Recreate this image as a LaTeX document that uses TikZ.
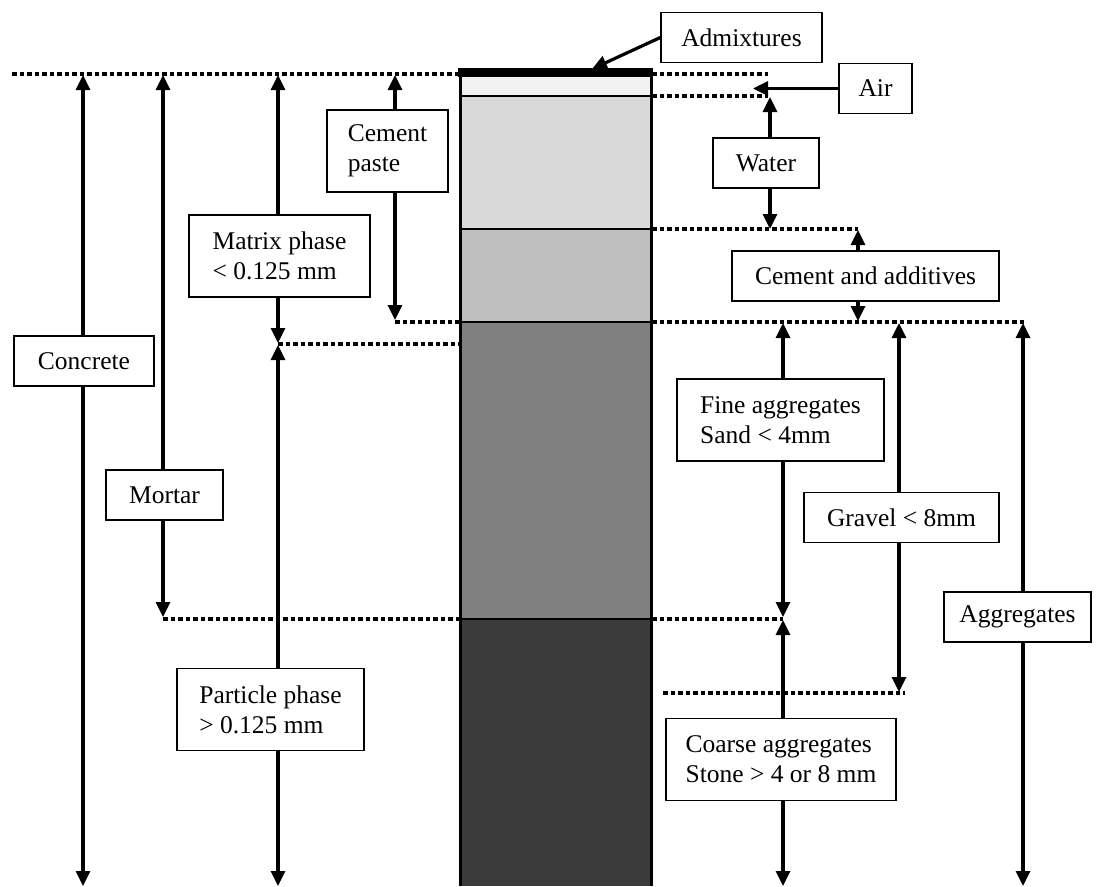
\documentclass[tikz,border=0pt]{standalone}
\usepackage{fontspec}
\setmainfont{Liberation Serif}
\usetikzlibrary{arrows.meta}
\tikzset{
  boite/.style={draw, line width=1.3pt, fill=white, inner xsep=14pt, inner ysep=0pt,
    minimum height=50pt, align=left},
  boite2/.style={boite, minimum height=82pt},
  fleche/.style={line width=3.2pt, -{Triangle[length=15pt,width=14pt]}},
  pointille/.style={line width=4.5pt, dash pattern=on 4.5pt off 3pt},
}
\begin{document}
\begin{tikzpicture}[x=1pt,y=-1pt,font=\fontsize{25.5}{30}\selectfont]
\useasboundingbox (0,0) rectangle (1099,886);
\newcommand{\doublecote}[3]{\draw[fleche] (#1.north -| #2) -- (#2); \draw[fleche] (#1.south -| #3) -- (#3);}
% couches de la colonne
\fill[black!5] (460,74) rectangle (651,96);%air
\fill[black!15] (460,96) rectangle (651,229);%eau
\fill[black!25] (460,229) rectangle (651,322);%ciment
\fill[black!50] (460,322) rectangle (651,619);%sable
\fill[black!77] (460,619) rectangle (651,886);%pierres
% lignes de niveau
\draw[pointille] (12,74) -- (459,74);
\draw[pointille] (652,74) -- (768,74);
\draw[pointille] (652,96) -- (768,96);
\draw[pointille] (652,229) -- (858,229);
\draw[pointille] (395,322) -- (459,322);
\draw[pointille] (652,322) -- (1024,322);
\draw[pointille] (278,344) -- (459,344);
\draw[pointille] (163,619) -- (459,619);
\draw[pointille] (652,619) -- (783,619);
\draw[pointille] (663,693) -- (905,693);
\foreach \y in {96,229,322,619} \draw[line width=2.5pt] (460,\y) -- (651,\y);
\draw[line width=3pt] (460,886) -- (460,72) (651,72) -- (651,886);
\draw[line width=9pt] (458,72.5) -- (653,72.5);%adjuvants
% boites
\node[boite, minimum width=161pt] (admix) at (741.5,37.5) {Admixtures};
\node[boite, minimum width=73pt] (air) at (875.5,88.5) {Air};
\node[boite, minimum width=106pt] (eau) at (766,163) {Water};
\node[boite, minimum width=267pt] (ciment) at (865.5,276) {Cement and additives};
\node[boite2, minimum width=207pt] (fin) at (780.5,420) {Fine aggregates\\Sand < 4mm};
\node[boite, minimum width=195pt] (gravier) at (901.5,517.5) {Gravel < 8mm};
\node[boite, minimum width=147pt] (granulats) at (1017.5,617) {Aggregates};
\node[boite2, minimum width=230pt] (gros) at (781,759.5) {Coarse aggregates\\Stone > 4 or 8 mm};
\node[boite, minimum width=140pt] (beton) at (84,361) {Concrete};
\node[boite, minimum width=117pt] (mortier) at (164.5,495) {Mortar};
\node[boite2, minimum width=181pt] (matrice) at (279.5,256) {Matrix phase\\< 0.125 mm};
\node[boite2, minimum width=187pt] (particule) at (270.5,709.5) {Particle phase\\> 0.125 mm};
\node[boite2, minimum width=121pt] (pate) at (387.5,151) {Cement\\paste};
% extremites des fleches
\coordinate (adm) at (592,69);
\coordinate (airB) at (753,88.5);
\coordinate (betonH) at (83,75); \coordinate (betonB) at (83,886);
\coordinate (mortierH) at (163,75); \coordinate (mortierB) at (163,617);
\coordinate (matriceH) at (278,75); \coordinate (matriceB) at (278,343);
\coordinate (particuleH) at (278,345); \coordinate (particuleB) at (278,886);
\coordinate (pateH) at (395,75); \coordinate (pateB) at (395,320);
\coordinate (eauH) at (770,97); \coordinate (eauB) at (770,229);
\coordinate (cimentH) at (858,230); \coordinate (cimentB) at (858,321);
\coordinate (finH) at (783,323); \coordinate (finB) at (783,617);
\coordinate (gravierH) at (899,323); \coordinate (gravierB) at (899,692);
\coordinate (granulatsH) at (1023,323); \coordinate (granulatsB) at (1023,886);
\coordinate (grosH) at (783,620); \coordinate (grosB) at (783,886);
% fleches
\draw[fleche] (admix.west) -- (adm);
\draw[fleche] (air.west) -- (airB);
\doublecote{beton}{betonH}{betonB}
\doublecote{mortier}{mortierH}{mortierB}
\doublecote{matrice}{matriceH}{matriceB}
\doublecote{particule}{particuleH}{particuleB}
\doublecote{pate}{pateH}{pateB}
\doublecote{eau}{eauH}{eauB}
\doublecote{ciment}{cimentH}{cimentB}
\doublecote{fin}{finH}{finB}
\doublecote{gravier}{gravierH}{gravierB}
\doublecote{granulats}{granulatsH}{granulatsB}
\doublecote{gros}{grosH}{grosB}
\end{tikzpicture}
\end{document}
